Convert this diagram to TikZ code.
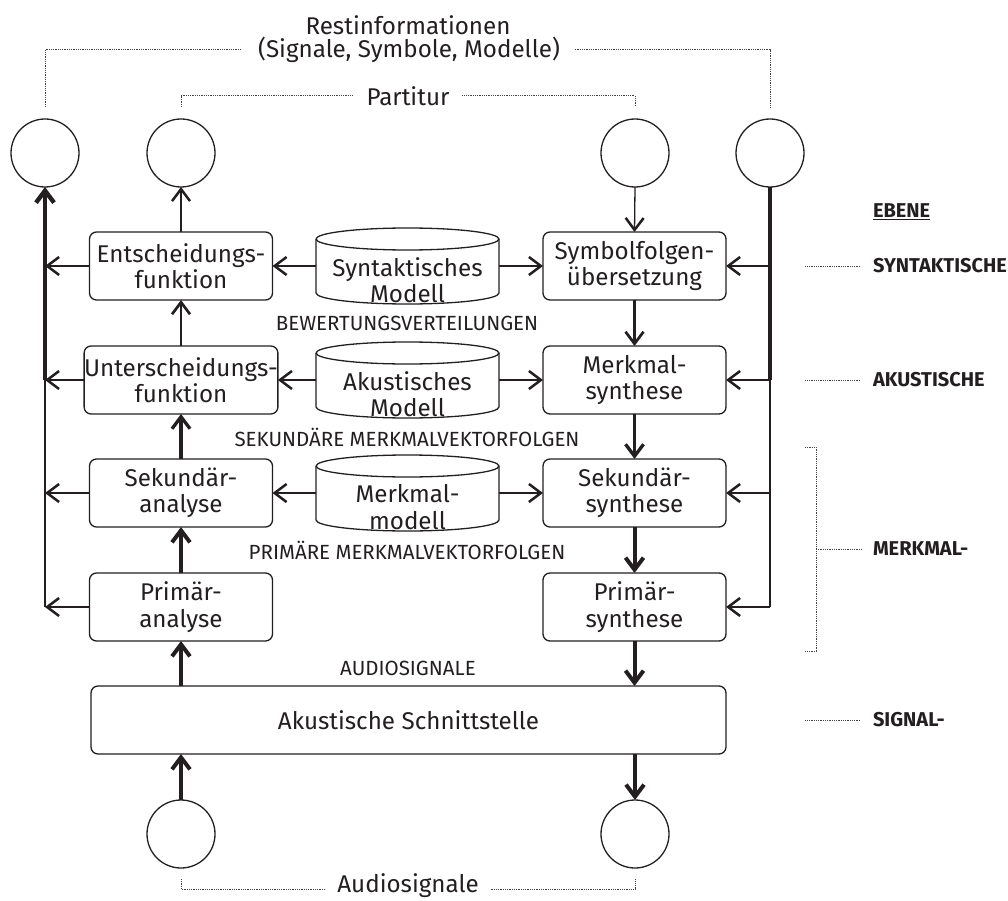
\documentclass[tikz,border=0pt]{standalone}
\usepackage{fontspec}
\setmainfont{Fira Sans}
\usetikzlibrary{arrows.meta,calc}
\definecolor{ink}{RGB}{35,31,32}
\newcommand\mainsz{\fontsize{24.2}{26.5}\selectfont}
\newcommand\capsz{\fontsize{20.5}{22}\selectfont}
\newcommand\lvlsz{\fontsize{20}{22}\selectfont\bfseries}
\begin{document}
\begin{tikzpicture}[x=1pt,y=-1pt,line join=round,color=ink,text=ink,
  every node/.style={inner sep=0pt,outer sep=0pt},
  box/.style={draw,rounded corners=7pt,minimum width=183pt,minimum height=68pt,align=center,font=\mainsz,line width=1.3pt},
  circ/.style={draw,circle,minimum size=68pt,line width=1.3pt},
  cylnode/.style={minimum width=183pt,minimum height=76pt},
  cyltext/.style={align=center,font=\mainsz},
  caplabel/.style={font=\capsz},
  lvl/.style={font=\lvlsz,anchor=west},
  head/.style={-{Straight Barb[length=12pt,width=18pt]}},
  aw1/.style={line width=1.3pt,-{Straight Barb[length=12pt,width=18pt,line width=2.5pt]}},
  aw2/.style={line width=2.7pt,head},
  aw3/.style={line width=3.3pt,head},
  aw4/.style={line width=4pt,head},
  dots/.style={line width=1pt,dash pattern=on 0.9pt off 0.9pt,color=ink!85},
  cylline/.style={line width=1.3pt}
]
\useasboundingbox (0,0) rectangle (1008,901);

% circles
\node[circ] (T1) at (45,153) {};
\node[circ] (T2) at (181,153) {};
\node[circ] (T3) at (635,153) {};
\node[circ] (T4) at (770,153) {};
\node[circ] (B1) at (181,834) {};
\node[circ] (B2) at (635,834) {};

% boxes
\node[box] (E) at (181,266) {Entscheidungs-\\funktion};
\node[box] (U) at (181,380) {Unterscheidungs-\\funktion};
\node[box] (SA) at (181,493) {Sekundär-\\analyse};
\node[box] (PA) at (181,607) {Primär-\\analyse};
\node[box] (SY) at (634.5,266) {Symbolfolgen-\\übersetzung};
\node[box] (MS) at (634.5,380) {Merkmal-\\synthese};
\node[box] (SS) at (634.5,493) {Sekundär-\\synthese};
\node[box] (PS) at (634.5,607) {Primär-\\synthese};
\node[box,minimum width=635pt] (AS) at (408.5,720) {Akustische Schnittstelle};

% cylinders
\foreach \n/\y in {C1/266,C2/380,C3/493}{
  \node[cylnode] (\n) at (407.5,\y) {};
  \draw[cylline] ($(\n.north)+(0,11)$) ellipse [x radius=91.5,y radius=11];
  \draw[cylline] ($(\n.north west)+(0,11)$) -- ($(\n.south west)+(0,-11)$)
     arc[start angle=180,end angle=0,x radius=91.5,y radius=11]
     -- ($(\n.north east)+(0,11)$);
}
\node[cyltext] (C1t) at ($(C1.center)+(0,14)$) {Syntaktisches\\Modell};
\node[cyltext] (C2t) at ($(C2.center)+(0,14)$) {Akustisches\\Modell};
\node[cyltext] (C3t) at ($(C3.center)+(0,14)$) {Merkmal-\\modell};

% middle labels
\node[caplabel] (L1) at (407,323) {BEWERTUNGSVERTEILUNGEN};
\node[caplabel] (L2) at (407,437) {SEKUNDÄRE MERKMALVEKTORFOLGEN};
\node[caplabel] (L3) at (407,550) {PRIMÄRE MERKMALVEKTORFOLGEN};
\node[caplabel] (L4) at (408,668) {AUDIOSIGNALE};

% cylinder arrows
\foreach \c/\l/\r in {C1/E/SY,C2/U/MS,C3/SA/SS}{
  \draw[aw1] (\c.west |- \l.east) -- (\l.east);
  \draw[aw1] (\c.east |- \r.west) -- (\r.west);
}

% left column vertical arrows
\draw[aw1] (E.north) -- (T2.south);
\draw[aw2] (U.north) -- (E.south);
\draw[aw3] (SA.north) -- (U.south);
\draw[aw4] (PA.north) -- (SA.south);
\draw[aw4] (PA.south |- AS.north) -- (PA.south);
\draw[aw4] (B1.north) -- (B1.north |- AS.south);

% right column vertical arrows
\draw[aw1] (T3.south) -- (SY.north);
\draw[aw2] (SY.south) -- (MS.north);
\draw[aw3] (MS.south) -- (SS.north);
\draw[aw4] (SS.south) -- (PS.north);
\draw[aw4] (PS.south) -- (PS.south |- AS.north);
\draw[aw4] (B2.north |- AS.south) -- (B2.north);

% left bus
\draw[aw4,line width=4.4pt] (E.west -| T1.south) -- (T1.south);
\draw[line width=4.2pt] (U.west -| T1.south) -- (E.west -| T1.south);
\draw[line width=2.7pt] (SA.west -| T1.south) -- (U.west -| T1.south);
\draw[line width=1.3pt] (PA.west -| T1.south) -- (SA.west -| T1.south);
\foreach \b in {E,U,SA,PA}{
  \draw[aw1] (\b.west) -- (\b.west -| T1.south);
}

% right bus
\draw[line width=4pt] (T4.south) -- (SY.east -| T4.south);
\draw[line width=3.3pt] (SY.east -| T4.south) -- (MS.east -| T4.south);
\draw[line width=2.7pt] (MS.east -| T4.south) -- (SS.east -| T4.south);
\draw[line width=1.3pt] (SS.east -| T4.south) -- (PS.east -| T4.south);
\foreach \b in {SY,MS,SS,PS}{
  \draw[aw1] (\b.east -| T4.south) -- (\b.east);
}

% top labels
\node[font=\mainsz] (R1) at (408,25) {Restinformationen};
\node[font=\mainsz] (R2) at (409,50) {(Signale, Symbole, Modelle)};
\node[font=\mainsz] (P) at (408,96) {Partitur};
\draw[dots] ($(T1.north)+(0,-12)$) |- ($(R2.west)+(-17,0)$);
\draw[dots] ($(R2.east)+(15,0)$) -| ($(T4.north)+(0,-12)$);
\draw[dots] ($(T2.north)+(0,-12)$) |- ($(P.west)+(-14,0)$);
\draw[dots] ($(P.east)+(13,0)$) -| ($(T3.north)+(0,-12)$);

% bottom label
\node[font=\mainsz] (A) at (408,886) {Audiosignale};
\draw[dots] ($(B1.south)+(0,11)$) |- ($(A.west |- 0,889)+(-12,0)$);
\draw[dots] ($(A.east |- 0,889)+(12,0)$) -| ($(B2.south)+(0,11)$);

% level labels
\node[lvl] (EB) at (873,212) {\underline{EBENE}};
\node[lvl] (SYN) at (873,266) {SYNTAKTISCHE};
\node[lvl] (AK) at (873,380) {AKUSTISCHE};
\node[lvl] (MK) at (873,549) {MERKMAL-};
\node[lvl] (SG) at (873,720) {SIGNAL-};
\draw[dots] ($(SYN.west)+(-13,0)$) -- ++(-55,0);
\draw[dots] ($(AK.west)+(-13,0)$) -- ++(-55,0);
\draw[dots] ($(SG.west)+(-13,0)$) -- ++(-55,0);
\coordinate (brt) at (816,447);
\coordinate (brb) at (816,651);
\draw[dots] ($(brt)+(-11,0)$) -- (brt) -- (brb) -- ++(-11,0);
\draw[dots] (brt |- MK.west) -- ($(MK.west)+(-11,0)$);
\end{tikzpicture}
\end{document}
